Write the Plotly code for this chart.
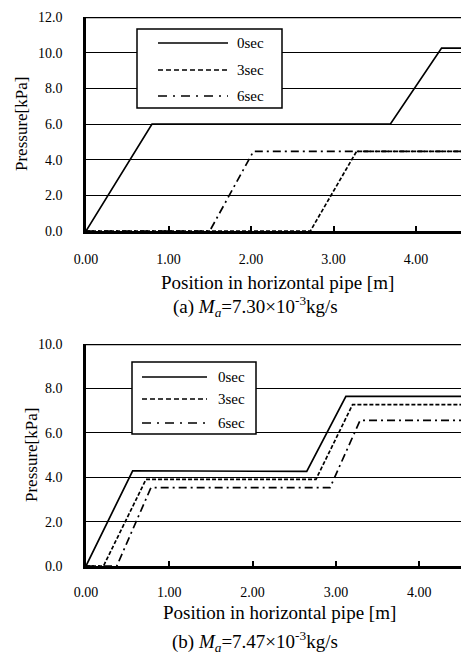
import plotly.graph_objects as go

# ---------------- data ----------------
series_names = ["0sec", "3sec", "6sec"]

# (a) Ma = 7.30e-3 kg/s
a_x_0sec = [0.00, 0.80, 3.69, 4.31, 5.00]
a_y_0sec = [0.0, 6.00, 6.00, 10.26, 10.26]
a_x_3sec = [0.00, 2.72, 3.28, 5.00]
a_y_3sec = [0.0, 0.0, 4.47, 4.47]
a_x_6sec = [0.00, 1.50, 2.03, 5.00]
a_y_6sec = [0.0, 0.0, 4.47, 4.47]

# (b) Ma = 7.47e-3 kg/s
b_x_0sec = [0.00, 0.56, 2.65, 3.12, 5.00]
b_y_0sec = [0.0, 4.29, 4.26, 7.64, 7.64]
b_x_3sec = [0.00, 0.21, 0.72, 2.76, 3.20, 5.00]
b_y_3sec = [0.0, 0.0, 3.90, 3.90, 7.27, 7.27]
b_x_6sec = [0.00, 0.37, 0.78, 2.93, 3.29, 5.00]
b_y_6sec = [0.0, 0.0, 3.53, 3.53, 6.56, 6.56]

x_tick_vals = [0, 1, 2, 3, 4]
x_tick_text = ["0.00", "1.00", "2.00", "3.00", "4.00"]
a_y_tick_vals = [0, 2, 4, 6, 8, 10, 12]
a_y_tick_text = ["0.0", "2.0", "4.0", "6.0", "8.0", "10.0", "12.0"]
b_y_tick_vals = [0, 2, 4, 6, 8, 10]
b_y_tick_text = ["0.0", "2.0", "4.0", "6.0", "8.0", "10.0"]

x_title = "Position in horizontal pipe [m]"
y_title = "Pressure[kPa]"
caption_a = "(a) <i>M</i><sub><i>a</i></sub>=7.30×10<sup>-3</sup>kg/s"
caption_b = "(b) <i>M</i><sub><i>a</i></sub>=7.47×10<sup>-3</sup>kg/s"

# ---------------- style ----------------
WIN_W, WIN_H = 469, 655
OFF = 8  # page body margin
W, H = WIN_W - OFF, WIN_H - OFF
FONT = "Liberation Serif, Times New Roman, serif"
dashes = ["solid", "4px,2px", "8px,4px,2px,4px"]
legend_dashes = ["solid", "5px,3px", "9px,6px,2px,6px"]


def px_x(p):
    return (p - OFF) / W


def px_y(p):
    return 1 - (p - OFF) / H


fig = go.Figure()

sets_a = [(a_x_0sec, a_y_0sec), (a_x_3sec, a_y_3sec), (a_x_6sec, a_y_6sec)]
sets_b = [(b_x_0sec, b_y_0sec), (b_x_3sec, b_y_3sec), (b_x_6sec, b_y_6sec)]

for i, (xs, ys) in enumerate(sets_a):
    fig.add_trace(go.Scatter(x=xs, y=ys, mode="lines", name=series_names[i],
                             line=dict(color="black", width=1.7, dash=dashes[i]),
                             xaxis="x", yaxis="y", showlegend=False))
for i, (xs, ys) in enumerate(sets_b):
    fig.add_trace(go.Scatter(x=xs, y=ys, mode="lines", name=series_names[i],
                             line=dict(color="black", width=1.7, dash=dashes[i]),
                             xaxis="x2", yaxis="y2", showlegend=False))

plot_left = 86
a_top, a_bot = 17, 231
b_top, b_bot = 344, 566

common_x = dict(
    showgrid=False, zeroline=False, showline=True, linecolor="black", linewidth=2.5,
    ticks="inside", ticklen=5, tickwidth=1.5, tickcolor="black",
    tickvals=x_tick_vals, ticktext=x_tick_text,
    tickfont=dict(family=FONT, size=14, color="black"),
    fixedrange=True, automargin=False,
)
common_y = dict(
    showgrid=True, gridcolor="black", gridwidth=1.3, zeroline=False,
    showline=True, linecolor="black", linewidth=2.5, ticks="",
    tickfont=dict(family=FONT, size=14, color="black"),
    ticklabelstandoff=18, fixedrange=True, automargin=False,
)

fig.update_layout(
    width=W, height=H,
    margin=dict(l=0, r=0, t=0, b=0, autoexpand=False),
    paper_bgcolor="white", plot_bgcolor="white",
    font=dict(family=FONT, color="black"),
    showlegend=False,
    xaxis=dict(common_x, domain=[px_x(plot_left), 1], range=[0, (WIN_W - plot_left) / 82.5],
               anchor="y", ticklabelstandoff=13),
    yaxis=dict(common_y, domain=[px_y(a_bot), px_y(a_top)], range=[0, 12],
               tickvals=a_y_tick_vals, ticktext=a_y_tick_text, anchor="x"),
    xaxis2=dict(common_x, domain=[px_x(plot_left), 1], range=[0, (WIN_W - plot_left) / 83.3],
                anchor="y2", ticklabelstandoff=11),
    yaxis2=dict(common_y, domain=[px_y(b_bot), px_y(b_top)], range=[0, 10],
                tickvals=b_y_tick_vals, ticktext=b_y_tick_text, anchor="x2"),
)

shapes = []
annotations = []

# top frame lines
for yref, ymax in (("y", 12), ("y2", 10)):
    xr = "x domain" if yref == "y" else "x2 domain"
    shapes.append(dict(type="line", xref=xr, yref=yref, x0=0, x1=1, y0=ymax, y1=ymax,
                       line=dict(color="black", width=2.5), layer="above"))


# custom legends (paper pixel coordinates)
def add_legend(box, line_x, text_x, rows, fsize):
    x0, y0, x1, y1 = box
    shapes.append(dict(type="rect", xref="paper", yref="paper",
                       x0=px_x(x0), x1=px_x(x1), y0=px_y(y1), y1=px_y(y0),
                       fillcolor="white", line=dict(color="black", width=1.5), layer="above"))
    for i, ry in enumerate(rows):
        shapes.append(dict(type="line", xref="paper", yref="paper",
                           x0=px_x(line_x[0]), x1=px_x(line_x[1]), y0=px_y(ry), y1=px_y(ry),
                           line=dict(color="black", width=1.7, dash=legend_dashes[i]), layer="above"))
        annotations.append(dict(text=series_names[i], xref="paper", yref="paper",
                                x=px_x(text_x), y=px_y(ry), xanchor="left", yanchor="middle",
                                showarrow=False, font=dict(family=FONT, size=fsize, color="black")))


add_legend((137, 29, 282, 108), (158, 228), 235, [43, 70, 96], 15)
add_legend((132, 362, 256, 434), (142, 207), 216, [377, 399, 423], 15)

# axis titles and captions
for cx, cy, txt, size, angle in [
    (277, 282, x_title, 19, 0),
    (279, 612, x_title, 19, 0),
    (22, 124, y_title, 17, -90),
    (31, 455, y_title, 17, -90),
    (255, 306, caption_a, 19, 0),
    (255, 641, caption_b, 19, 0),
]:
    annotations.append(dict(text=txt, xref="paper", yref="paper", x=px_x(cx), y=px_y(cy),
                            xanchor="center", yanchor="middle", showarrow=False, textangle=angle,
                            font=dict(family=FONT, size=size, color="black")))

fig.update_layout(shapes=shapes, annotations=annotations)

fig.write_html("out.html")
